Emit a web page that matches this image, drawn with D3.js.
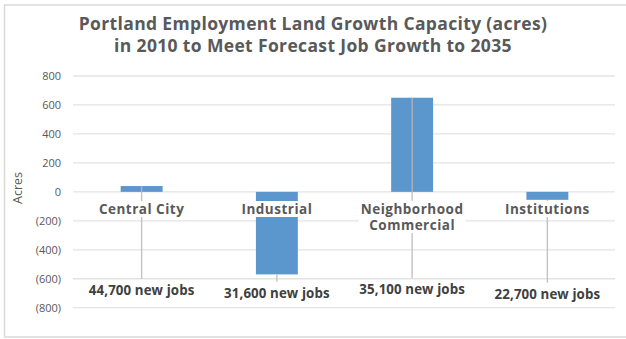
<!DOCTYPE html>
<html><head><meta charset="utf-8">
<script src="https://cdn.jsdelivr.net/npm/d3@7"></script>
<style>html,body{margin:0;padding:0;background:#fff;}svg{display:block;}</style>
</head><body>
<script>
const categories = ["Central City", "Industrial", "Neighborhood Commercial", "Institutions"];
const acres = [40, -570, 650, -55];
const jobLabels = ["44,700 new jobs", "31,600 new jobs", "35,100 new jobs", "22,700 new jobs"];
const jobAnchors = [-600, -620, -595, -628];
const yTicks = [800, 600, 400, 200, 0, -200, -400, -600, -800];
const titleLines = ["Portland Employment Land Growth Capacity (acres)", "in 2010 to Meet Forecast Job Growth to 2035"];

const W = 626, H = 339;
const svg = d3.select("body").append("svg").attr("width", W).attr("height", H);
const font = "'Open Sans', 'Liberation Sans', sans-serif";

svg.append("rect").attr("x", 4.5).attr("y", 5).attr("width", 640).attr("height", 332)
  .attr("fill", "#fff").attr("stroke", "#d9d9d9").attr("stroke-width", 1.5);

svg.selectAll("text.title").data(titleLines).join("text")
  .attr("x", 313).attr("y", (d, i) => 30 + i * 22)
  .attr("text-anchor", "middle").attr("font-family", font).attr("font-weight", 700)
  .attr("font-size", 17.5).attr("letter-spacing", 0.35).attr("fill", "#595959").text(d => d);

const y = d3.scaleLinear().domain([-800, 800]).range([307.7, 76]);
const x = d3.scaleBand().domain(categories).range([74, 615]).paddingInner(0.69).paddingOuter(0.345);

const fmt = v => v < 0 ? "(" + Math.abs(v) + ")" : String(v);

// gridlines
svg.append("g").selectAll("line").data(yTicks).join("line")
  .attr("x1", 73).attr("x2", 615).attr("y1", d => y(d)).attr("y2", d => y(d))
  .attr("stroke", "#e3e3e3").attr("stroke-width", 1.3);

// y axis via d3 axis
const yAxis = d3.axisLeft(y).tickValues(yTicks).tickFormat(fmt).tickSize(0).tickPadding(0);
const ga = svg.append("g").attr("transform", "translate(61,0)").call(yAxis);
ga.select(".domain").remove();
ga.selectAll("text").attr("font-family", font).attr("font-size", 11).attr("fill", "#595959");

svg.append("text").attr("transform", "translate(22,188) rotate(-90)")
  .attr("text-anchor", "middle").attr("font-family", font).attr("font-size", 12.5)
  .attr("fill", "#595959").text("Acres");

// bars
svg.append("g").selectAll("rect").data(categories).join("rect")
  .attr("x", d => x(d)).attr("width", x.bandwidth())
  .attr("y", (d, i) => Math.min(y(0), y(acres[i])))
  .attr("height", (d, i) => Math.abs(y(acres[i]) - y(0)))
  .attr("fill", "#5b96cc");

// leader lines
svg.append("g").selectAll("line").data(categories).join("line")
  .attr("x1", d => x(d) + x.bandwidth() / 2).attr("x2", d => x(d) + x.bandwidth() / 2)
  .attr("y1", (d, i) => y(acres[i])).attr("y2", (d, i) => y(jobAnchors[i]))
  .attr("stroke", "#b8b8b8").attr("stroke-opacity", 0.85).attr("stroke-width", 1.4);

// category labels with white boxes
const catG = svg.append("g").selectAll("g").data(categories).join("g")
  .attr("transform", d => `translate(${x(d) + x.bandwidth() / 2},0)`);
catG.each(function(d) {
  const g = d3.select(this);
  const words = d === "Neighborhood Commercial" ? ["Neighborhood", "Commercial"] : [d];
  const rect = g.append("rect").attr("fill", "#fff");
  const t = g.append("text").attr("text-anchor", "middle").attr("font-family", font)
    .attr("font-weight", 700).attr("font-size", 13.5).attr("letter-spacing", 0.5).attr("fill", "#595959");
  words.forEach((w, i) => t.append("tspan").attr("x", 0).attr("y", 214 + i * 16).text(w));
  const bb = t.node().getBBox();
  rect.attr("x", bb.x - 2).attr("y", 201).attr("width", bb.width + 4).attr("height", words.length * 16);
});

// job labels
svg.append("g").selectAll("text").data(categories).join("text")
  .attr("x", d => x(d) + x.bandwidth() / 2)
  .attr("y", (d, i) => y(jobAnchors[i]) + 16)
  .attr("text-anchor", "middle").attr("font-family", font).attr("font-weight", 700)
  .attr("font-size", 13.3).attr("letter-spacing", 0.1).attr("fill", "#404040").text((d, i) => jobLabels[i]);
</script>
</body></html>
